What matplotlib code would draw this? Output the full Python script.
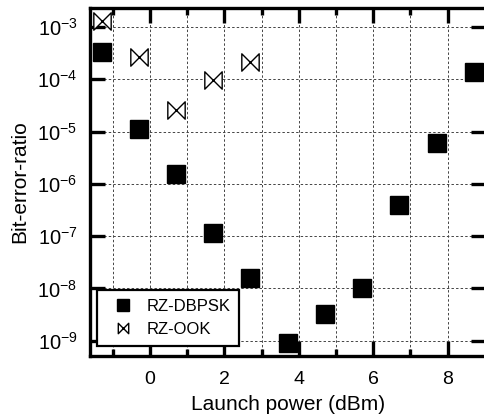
import numpy as np
import matplotlib
matplotlib.use("Agg")
import matplotlib.pyplot as plt
from matplotlib.path import Path
from matplotlib.ticker import FixedLocator

plt.rcParams['font.family'] = ['Liberation Sans', 'DejaVu Sans']
plt.rcParams['mathtext.fontset'] = 'custom'
plt.rcParams['mathtext.rm'] = 'Liberation Sans'
plt.rcParams['mathtext.it'] = 'Liberation Sans:italic'

# Data
dbpsk_power = [-1.3, -0.3, 0.7, 1.7, 2.7, 3.7, 4.7, 5.7, 6.7, 7.7, 8.7]
dbpsk_ber = [3.3e-4, 1.1e-5, 1.55e-6, 1.15e-7, 1.6e-8, 9e-10, 3.2e-9, 1.0e-8, 4e-7, 5.9e-6, 1.4e-4]
ook_power = [-1.3, -0.3, 0.7, 1.7, 2.7]
ook_ber = [1.3e-3, 2.7e-4, 2.55e-5, 9.6e-5, 2.1e-4]

xticks = [0, 2, 4, 6, 8]
xminor = [-1, 1, 3, 5, 7]
yexp = [-9, -8, -7, -6, -5, -4, -3]
ytick_labels = [r'$\mathregular{10^{%d}}$' % e for e in yexp]

bowtie = Path([(-1, 1), (1, -1), (1, 1), (-1, -1), (-1, 1)],
              [Path.MOVETO, Path.LINETO, Path.LINETO, Path.LINETO, Path.CLOSEPOLY])

fig = plt.figure(figsize=(4.84, 4.16), dpi=100)
ax = fig.add_axes([90/484, 60/416, 396/484, 348/416])

ax.plot(dbpsk_power, dbpsk_ber, linestyle='none', marker='s', markersize=13.5,
        color='black', label='RZ-DBPSK')
ax.plot(ook_power, ook_ber, linestyle='none', marker=bowtie, markersize=12.5,
        markerfacecolor='white', markeredgecolor='black', markeredgewidth=1.0,
        label='RZ-OOK')

ax.set_yscale('log')
ax.set_xlim(-1.61, 9.03)
ax.set_ylim(10**-9.29, 10**-2.64)

ax.xaxis.set_major_locator(FixedLocator(xticks))
ax.xaxis.set_minor_locator(FixedLocator(xminor))
ax.set_xticklabels([str(t) for t in xticks])
ax.yaxis.set_major_locator(FixedLocator([10.0**e for e in yexp]))
ax.yaxis.set_minor_locator(FixedLocator([]))
ax.set_yticklabels(ytick_labels)

ax.tick_params(axis='both', which='major', direction='in', top=True, right=True,
               width=2.4, length=11, labelsize=14)
ax.tick_params(axis='x', which='major', pad=11)
ax.tick_params(axis='y', which='major', pad=9, labelsize=14.5)
ax.tick_params(axis='x', which='minor', direction='in', top=True, length=5, width=2.4)

for s in ax.spines.values():
    s.set_linewidth(2.4)

gstyle = dict(color='#444444', linestyle=(0, (2.5, 2.2)), linewidth=0.7)
ax.grid(True, which='both', axis='x', **gstyle)
ax.grid(True, which='major', axis='y', **gstyle)
ax.set_axisbelow(True)

ax.set_xlabel('Launch power (dBm)', fontsize=15, labelpad=5)
ax.set_ylabel('Bit-error-ratio', fontsize=15, labelpad=6)

leg = ax.legend(loc='lower left', bbox_to_anchor=(0.018, 0.029), fontsize=12,
                frameon=True, fancybox=False, edgecolor='black', framealpha=1,
                markerscale=0.6, handlelength=2.0, handletextpad=0.4,
                borderpad=0.55, labelspacing=0.45, borderaxespad=0)
leg.get_frame().set_linewidth(1.6)

fig.savefig('out.png', dpi=100)
